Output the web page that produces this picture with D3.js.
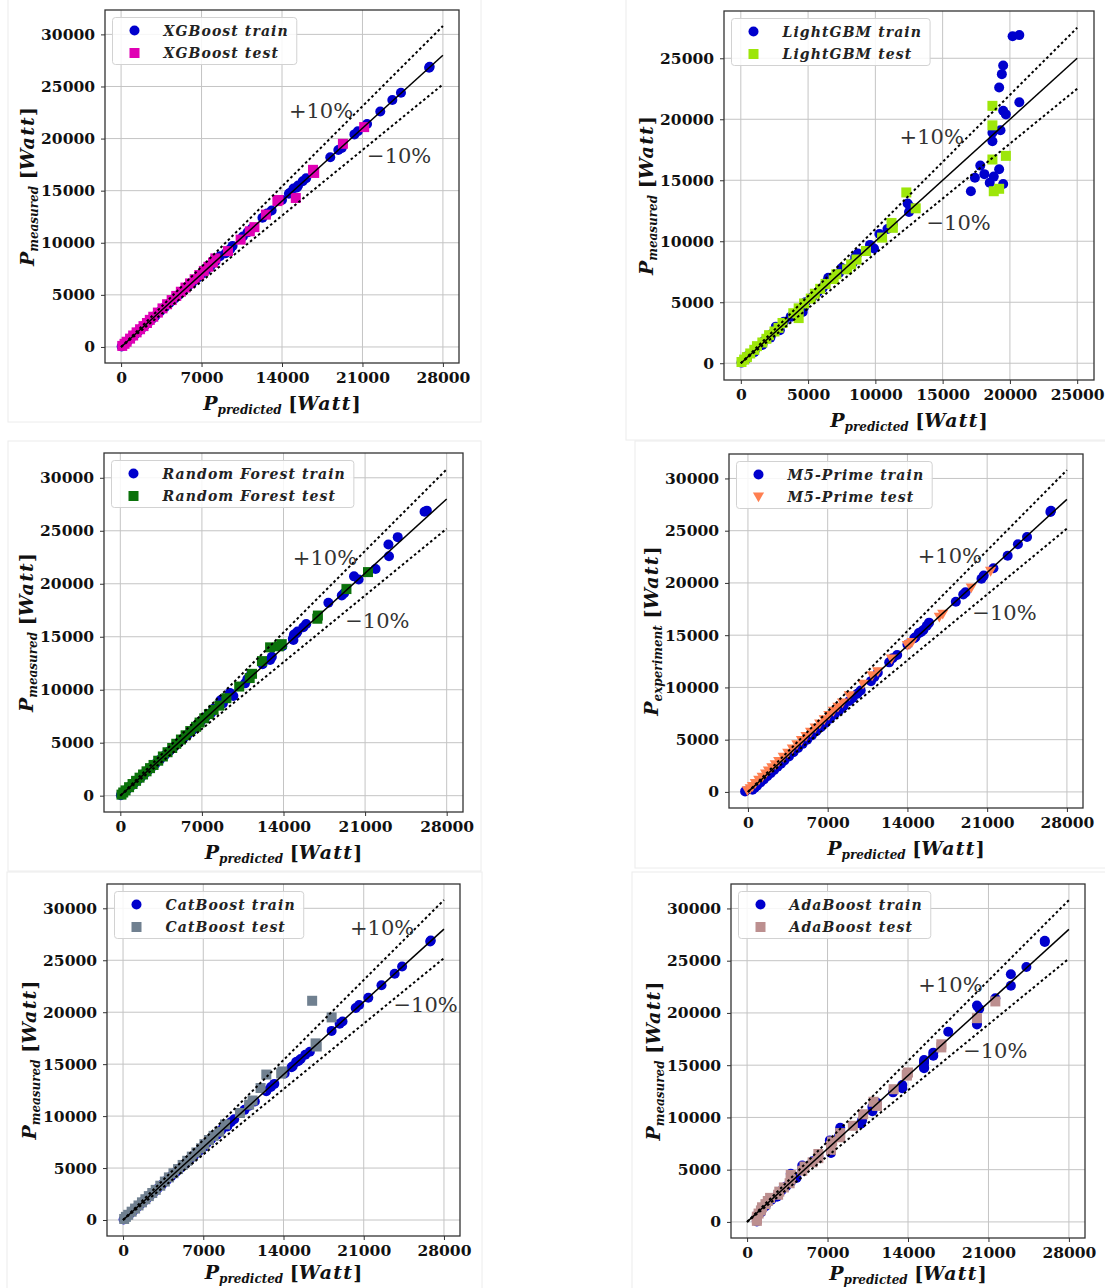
<!DOCTYPE html>
<html>
<head>
<meta charset="utf-8">
<script src="https://cdn.jsdelivr.net/npm/d3@7"></script>
<style>
body { margin: 0; background: #fff; }
svg text { font-family: "DejaVu Serif", serif; }
</style>
</head>
<body>
<div id="chart"></div>
<script>
// measured power (same split for every model)
const trainMeasured = [26900, 26800, 24400, 23700, 22600, 21400, 20700, 20400, 19100, 18900, 18200, 16200, 15900, 15500, 15300, 15200, 14800, 14700, 14100, 13100, 12800, 12400, 11400, 11000, 10600, 9700, 9400, 9000, 8700, 8200, 7800, 7400, 7000, 6600, 6200, 5800, 5400, 5000, 4600, 4200, 3800, 3400, 3000, 2700, 2400, 2100, 1800, 1500, 1200, 900, 600, 400, 200, 50];
const testMeasured = [21100, 19500, 17000, 16700, 14300, 14100, 14000, 12700, 11500, 11100, 10300, 9200, 8500, 8100, 7700, 7300, 6900, 6500, 6100, 5700, 5300, 4900, 4500, 4100, 3700, 3300, 2900, 2600, 2300, 2000, 1700, 1400, 1100, 800, 500, 300, 100];

// predictions of each model, same order as the measured arrays
const xgbTrainPred = [26850, 26800, 24350, 23600, 22550, 21400, 20600, 20300, 19200, 18900, 18200, 16100, 15800, 15400, 15300, 15000, 14700, 14600, 14000, 13100, 12700, 12300, 11400, 11000, 10600, 9700, 9500, 9100, 8600, 8200, 7800, 7400, 7000, 6600, 6200, 5800, 5400, 5000, 4600, 4200, 3800, 3400, 3000, 2700, 2400, 2100, 1800, 1500, 1200, 900, 600, 400, 200, 50];
const xgbTestPred = [21150, 19300, 16700, 16800, 15200, 13700, 13600, 12600, 11600, 11200, 10400, 9300, 8200, 8000, 7600, 7200, 6800, 6400, 6000, 5600, 5200, 4800, 4400, 4000, 3600, 3200, 2800, 2500, 2250, 1950, 1650, 1350, 1050, 780, 480, 300, 100];

const lgbTrainPred = [20700, 20200, 19500, 19400, 19200, 20700, 19500, 19700, 19300, 18700, 18700, 17800, 19200, 18100, 18800, 17400, 18500, 19500, 17100, 12400, 12600, 12500, 11300, 10900, 10300, 9600, 9900, 8700, 8500, 8300, 7500, 7300, 6500, 6300, 6100, 5700, 5300, 4800, 4700, 4600, 3700, 3200, 2600, 2900, 2300, 2200, 1700, 1600, 1100, 1000, 500, 450, 150, 50];
const lgbTestPred = [18700, 18700, 19700, 18700, 19200, 18800, 12300, 13000, 11200, 11300, 10500, 9300, 8600, 8200, 7900, 7100, 6900, 6300, 5900, 5500, 5200, 4700, 4300, 3900, 4300, 3100, 2800, 2500, 2100, 1900, 1600, 1200, 1000, 700, 450, 250, 50];

const rfTrainPred = [26300, 26100, 23800, 23000, 23050, 21900, 20050, 20450, 19200, 19000, 17850, 15950, 15700, 15200, 15100, 14900, 14800, 14850, 13900, 13000, 12850, 12200, 11200, 10900, 10700, 9400, 9700, 8600, 8800, 8000, 7800, 7300, 6900, 6500, 6200, 5800, 5400, 5000, 4600, 4200, 3800, 3400, 3000, 2700, 2400, 2100, 1800, 1500, 1200, 900, 600, 400, 200, 50];
const rfTestPred = [21250, 19400, 16950, 16900, 13850, 13600, 12850, 12150, 11300, 11100, 10200, 9100, 8500, 8000, 7600, 7200, 6800, 6500, 6000, 5600, 5200, 4800, 4450, 4050, 3650, 3250, 2850, 2550, 2250, 1950, 1650, 1350, 1050, 750, 450, 250, 100];

const m5TrainPred = [26600, 26550, 24500, 23700, 22800, 21550, 20700, 20500, 19100, 18900, 18250, 15900, 15700, 15400, 15200, 15000, 14700, 14600, 14000, 13100, 12700, 12400, 11400, 11100, 10800, 9900, 9600, 9200, 8900, 8400, 8000, 7600, 7200, 6800, 6400, 6000, 5600, 5200, 4800, 4400, 4000, 3600, 3200, 2900, 2600, 2300, 2000, 1700, 1400, 1100, 800, 600, 400, -250];
const m5TestPred = [21300, 19600, 17100, 16800, 14400, 14200, 14000, 12600, 11400, 10900, 10100, 8900, 8300, 7900, 7500, 7100, 6700, 6300, 5900, 5500, 5100, 4700, 4300, 3900, 3500, 3100, 2700, 2400, 2100, 1800, 1550, 1250, 950, 650, 400, 200, -50];

const catTrainPred = [26850, 26800, 24350, 23700, 22550, 21400, 20600, 20300, 19150, 18900, 18200, 16300, 15900, 15500, 15300, 15100, 14800, 14700, 14100, 13200, 12900, 12500, 11500, 11000, 10600, 9700, 9400, 9100, 8600, 8200, 7700, 7300, 7000, 6600, 6200, 5800, 5400, 5000, 4600, 4200, 3800, 3400, 3000, 2700, 2400, 2100, 1800, 1500, 1200, 900, 600, 400, 200, 50];
const catTestPred = [16500, 18200, 16800, 16900, 13900, 13800, 12500, 12000, 11300, 11000, 10200, 8900, 8400, 7900, 7500, 7100, 6800, 6400, 6000, 5600, 5200, 4800, 4400, 4000, 3650, 3250, 2850, 2550, 2250, 1950, 1650, 1350, 1050, 750, 450, 250, 100];

const adaTrainPred = [25900, 25900, 24300, 22950, 22950, 21600, 20000, 20200, 20000, 20000, 17500, 16200, 16200, 15400, 15400, 15400, 15400, 15400, 14000, 13500, 13500, 12700, 11300, 10900, 10900, 10000, 9900, 8100, 8100, 8000, 7200, 7300, 7300, 7300, 6200, 5700, 4800, 4800, 3800, 4300, 3800, 3400, 3000, 2700, 2600, 2100, 1700, 1600, 1300, 1200, 850, 850, 850, 850];
const adaTestPred = [21600, 20000, 16900, 16900, 14000, 13900, 13900, 12750, 11000, 11300, 10100, 9200, 8100, 8100, 7400, 7300, 7300, 6200, 6200, 5700, 5000, 4800, 3800, 3800, 3700, 3200, 2800, 2700, 2000, 1800, 1600, 1300, 1200, 1000, 850, 850, 850];

// tick labels
const ticks7000 = [0, 7000, 14000, 21000, 28000];
const ticks5000to30000 = [0, 5000, 10000, 15000, 20000, 25000, 30000];
const ticks5000to25000 = [0, 5000, 10000, 15000, 20000, 25000];

const trainColor = "#0000cd";

const panels = [
    {name: "XGBoost", trainPred: xgbTrainPred, testPred: xgbTestPred, color: "#e000b4", shape: "square",
     ySub: "measured", frame: [105, 10, 459, 363], cell: [8, -1, 473, 423], xlab: 47,
     xTicks: ticks7000, yTicks: ticks5000to30000, lineMax: 28000, plus: [14600, 22000], minus: [21400, 17700]},
    {name: "LightGBM", trainPred: lgbTrainPred, testPred: lgbTestPred, color: "#9de60a", shape: "square",
     ySub: "measured", frame: [724, 11, 1094, 380], cell: [626, -1, 480, 441], xlab: 47,
     xTicks: ticks5000to25000, yTicks: ticks5000to25000, lineMax: 25000, plus: [11800, 18000], minus: [13800, 10900]},
    {name: "Random Forest", trainPred: rfTrainPred, testPred: rfTestPred, color: "#0b720b", shape: "square",
     ySub: "measured", frame: [104, 453, 463, 812], cell: [8, 441, 473, 430], xlab: 47,
     xTicks: ticks7000, yTicks: ticks5000to30000, lineMax: 28000, plus: [14800, 21800], minus: [19300, 15800]},
    {name: "M5-Prime", trainPred: m5TrainPred, testPred: m5TestPred, color: "#ff7f50", shape: "triangle",
     ySub: "experiment", frame: [729, 454, 1083, 808], cell: [635, 441, 471, 427], xlab: 47,
     xTicks: ticks7000, yTicks: ticks5000to30000, lineMax: 28000, plus: [14900, 21900], minus: [19700, 16500]},
    {name: "CatBoost", trainPred: catTrainPred, testPred: catTestPred, color: "#708090", shape: "square",
     ySub: "measured", frame: [107, 884, 460, 1236], cell: [7, 872, 475, 420], xlab: 43,
     xTicks: ticks7000, yTicks: ticks5000to30000, lineMax: 28000, plus: [19800, 27400], minus: [23600, 20000]},
    {name: "AdaBoost", trainPred: adaTrainPred, testPred: adaTestPred, color: "#bc8f8f", shape: "square",
     ySub: "measured", frame: [731, 884, 1085, 1238], cell: [632, 872, 475, 420], xlab: 42,
     xTicks: ticks7000, yTicks: ticks5000to30000, lineMax: 28000, plus: [14900, 22000], minus: [18800, 15700]}
];

const svg = d3.select("#chart")
    .append("svg")
    .attr("width", 1105)
    .attr("height", 1288);

function drawMarker(sel, shape, color) {
    if (shape === "circle") {
        sel.append("circle").attr("r", 5).attr("fill", color);
    } else if (shape === "square") {
        sel.append("rect").attr("x", -5).attr("y", -5).attr("width", 10).attr("height", 10).attr("fill", color);
    } else {
        sel.append("path").attr("d", "M-5.6,-4.6L5.6,-4.6L0,5.2Z").attr("fill", color);
    }
}

function withMargin(ext) {
    const s = ext[1] - ext[0];
    return [ext[0] - 0.05 * s, ext[1] + 0.05 * s];
}

panels.forEach((p, k) => {
    const [l, t, r, b] = p.frame;
    const train = trainMeasured.map((m, i) => ({x: p.trainPred[i], y: m}));
    const test = testMeasured.map((m, i) => ({x: p.testPred[i], y: m}));

    const x = d3.scaleLinear()
        .domain(withMargin(d3.extent([0, p.lineMax, ...p.trainPred, ...p.testPred])))
        .range([l, r]);
    const y = d3.scaleLinear()
        .domain(withMargin(d3.extent([0, p.lineMax * 1.1, ...trainMeasured, ...testMeasured])))
        .range([b, t]);

    const g = svg.append("g");

    // faint border of the sub-figure
    g.append("rect")
        .attr("x", p.cell[0]).attr("y", p.cell[1])
        .attr("width", p.cell[2]).attr("height", p.cell[3])
        .attr("fill", "none").attr("stroke", "#ececec");

    // grid
    g.selectAll(".gx").data(p.xTicks).join("line")
        .attr("x1", d => x(d)).attr("x2", d => x(d))
        .attr("y1", t).attr("y2", b)
        .attr("stroke", "#c4c4c4").attr("stroke-width", 1);
    g.selectAll(".gy").data(p.yTicks).join("line")
        .attr("y1", d => y(d)).attr("y2", d => y(d))
        .attr("x1", l).attr("x2", r)
        .attr("stroke", "#c4c4c4").attr("stroke-width", 1);

    // axes
    const xAxis = g.append("g")
        .attr("transform", `translate(0,${b})`)
        .call(d3.axisBottom(x).tickValues(p.xTicks).tickSize(4).tickSizeOuter(0).tickPadding(5));
    const yAxis = g.append("g")
        .attr("transform", `translate(${l},0)`)
        .call(d3.axisLeft(y).tickValues(p.yTicks).tickSize(4).tickSizeOuter(0).tickPadding(6).tickFormat(d3.format("d")));
    [xAxis, yAxis].forEach(a => {
        a.select(".domain").remove();
        a.attr("font-family", "DejaVu Serif").attr("font-size", 15.5).attr("font-weight", "bold");
        a.selectAll("line").attr("stroke", "#333");
        a.selectAll("text").attr("fill", "#111");
    });
    xAxis.selectAll("text").text(d => d3.format("d")(d));

    // points
    const clipId = "clip" + k;
    svg.append("clipPath").attr("id", clipId)
        .append("rect").attr("x", l).attr("y", t).attr("width", r - l).attr("height", b - t);
    const pts = g.append("g").attr("clip-path", `url(#${clipId})`);
    pts.selectAll(".tr").data(train).join("g")
        .attr("transform", d => `translate(${x(d.x)},${y(d.y)})`)
        .each(function () { drawMarker(d3.select(this), "circle", trainColor); });
    pts.selectAll(".te").data(test).join("g")
        .attr("transform", d => `translate(${x(d.x)},${y(d.y)})`)
        .each(function () { drawMarker(d3.select(this), p.shape, p.color); });

    // identity and +-10% lines
    const lines = [
        {f: 1.0, dash: null},
        {f: 1.1, dash: "2.6,2.6"},
        {f: 0.9, dash: "2.6,2.6"}
    ];
    lines.forEach(ln => {
        pts.append("line")
            .attr("x1", x(0)).attr("y1", y(0))
            .attr("x2", x(p.lineMax)).attr("y2", y(p.lineMax * ln.f))
            .attr("stroke", "#000")
            .attr("stroke-width", ln.dash ? 2 : 1.5)
            .attr("stroke-dasharray", ln.dash);
    });

    // frame
    g.append("rect")
        .attr("x", l).attr("y", t).attr("width", r - l).attr("height", b - t)
        .attr("fill", "none").attr("stroke", "#333").attr("stroke-width", 1.3);

    // annotations
    g.append("text").attr("x", x(p.plus[0])).attr("y", y(p.plus[1]))
        .attr("font-family", "Liberation Serif").attr("font-size", 21).attr("fill", "#333").text("+10%");
    g.append("text").attr("x", x(p.minus[0])).attr("y", y(p.minus[1]))
        .attr("font-family", "Liberation Serif").attr("font-size", 21).attr("fill", "#333").text("\u221210%");

    // legend
    const lg = g.append("g").attr("transform", `translate(${l + 7.5},${t + 7.5})`);
    const box = lg.append("rect").attr("rx", 3)
        .attr("height", 47)
        .attr("fill", "#fff").attr("fill-opacity", 0.85)
        .attr("stroke", "#d2d2d2");
    const entries = [
        {label: p.name + " train", shape: "circle", color: trainColor},
        {label: p.name + " test", shape: p.shape, color: p.color}
    ];
    let maxW = 0;
    entries.forEach((e, i) => {
        const row = lg.append("g").attr("transform", `translate(0,${13 + i * 22.5})`);
        const m = row.append("g").attr("transform", "translate(22,0)");
        drawMarker(m, e.shape, e.color);
        const tx = row.append("text").attr("x", 51).attr("y", 5)
            .attr("font-size", 14).attr("font-style", "italic").attr("font-weight", "bold")
            .attr("letter-spacing", 1.1).attr("fill", "#222")
            .text(e.label);
        maxW = Math.max(maxW, tx.node().getComputedTextLength());
    });
    box.attr("width", 51 + maxW + 8);

    // axis labels
    const xl = g.append("text")
        .attr("x", (l + r) / 2).attr("y", b + p.xlab)
        .attr("text-anchor", "middle").attr("fill", "#111");
    addLabel(xl, "predicted");
    const yl = g.append("text")
        .attr("transform", `translate(${l - 71},${(t + b) / 2}) rotate(-90)`)
        .attr("text-anchor", "middle").attr("fill", "#111");
    addLabel(yl, p.ySub);
});

function addLabel(txt, sub) {
    txt.append("tspan").attr("font-size", 19).attr("font-style", "italic").attr("font-weight", "bold").text("P");
    txt.append("tspan").attr("font-size", 12).attr("font-style", "italic").attr("font-weight", "bold")
        .attr("dy", 3.5).text(sub);
    txt.append("tspan").attr("font-size", 19).attr("dy", -3.5).attr("font-weight", "bold").text(" [");
    txt.append("tspan").attr("font-size", 19).attr("font-style", "italic").attr("font-weight", "bold")
        .attr("letter-spacing", 1.2).text("Watt");
    txt.append("tspan").attr("font-size", 19).attr("font-weight", "bold").text("]");
}
</script>
</body>
</html>
